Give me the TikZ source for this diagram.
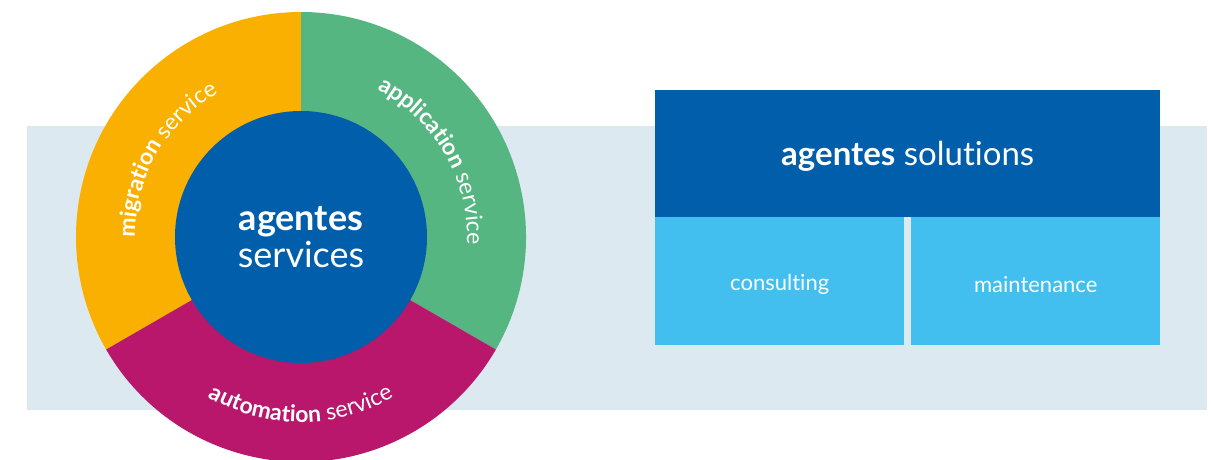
\documentclass[tikz,border=0pt]{standalone}
\usepackage{fontspec}
\setmainfont[Ligatures=NoCommon]{Lato}
\usetikzlibrary{decorations.text,calc}
\definecolor{bandc}{HTML}{DDE9F1}
\definecolor{orangec}{HTML}{F9B000}
\definecolor{greenc}{HTML}{55B682}
\definecolor{magentac}{HTML}{B8176B}
\definecolor{bluec}{HTML}{005EAA}
\definecolor{lightc}{HTML}{42BFEE}
\newcommand{\ringfont}{\fontsize{23}{23}\selectfont}
\tikzset{
  boxstyle/.style={rectangle, inner sep=0pt, text=white, anchor=south west},
  ringlabel/.style={decorate, decoration={text along path, text align=center, text color=white, text={#1}}}
}
\begin{document}
\begin{tikzpicture}[x=1pt,y=1pt]
\useasboundingbox (0,0) rectangle (1211,459);
\fill[bandc] (27,49) rectangle (1207,333);
\coordinate (c) at (301,222);
% ring sectors
\fill[orangec] (c) -- ($(c)+(90:225)$) arc[start angle=90, end angle=210, radius=225] -- cycle;
\fill[greenc] (c) -- ($(c)+(-30:225)$) arc[start angle=-30, end angle=90, radius=225] -- cycle;
\fill[magentac] (c) -- ($(c)+(210:225)$) arc[start angle=210, end angle=330, radius=225] -- cycle;
% core
\node[circle, fill=bluec, minimum size=252pt, inner sep=0pt, text=white, align=center] (core) at (c)
  {\fontsize{36}{36}\selectfont\bfseries agentes\\[4pt]\fontsize{36}{36}\selectfont services};
% ring labels
\path[ringlabel={|\ringfont\bfseries|migration|\ringfont| service}]
  ($(c)+(200:166)$) arc[start angle=200, end angle=100, radius=166];
\path[ringlabel={|\ringfont\bfseries|application|\ringfont| service}]
  ($(c)+(80:166)$) arc[start angle=80, end angle=-20, radius=166];
\path[ringlabel={|\ringfont\bfseries|automation|\ringfont| service}]
  ($(c)+(200:185)$) arc[start angle=200, end angle=340, radius=185];
% solutions
\node[boxstyle, fill=bluec, minimum width=505pt, minimum height=127pt] (sol) at (655,242) {};
\node[text=white, font=\fontsize{33}{33}\selectfont] (soltext) at ([yshift=-3pt]sol.center) {\textbf{agentes} solutions};
\node[boxstyle, fill=lightc, minimum width=249pt, minimum height=128pt] (cons) at (655,114) {};
\node[text=white, font=\fontsize{22}{22}\selectfont] (constext) at ([yshift=-4pt]cons.center) {consulting};
\node[boxstyle, fill=lightc, minimum width=249pt, minimum height=128pt] (maint) at (911,114) {};
\node[text=white, font=\fontsize{22}{22}\selectfont] (mainttext) at ([yshift=-4pt]maint.center) {maintenance};
\end{tikzpicture}
\end{document}
